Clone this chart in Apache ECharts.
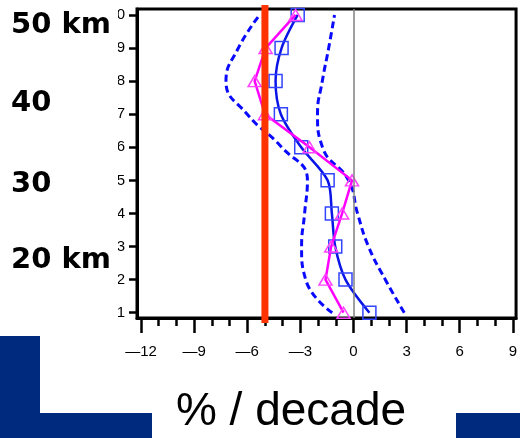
<!DOCTYPE html>
<html>
<head>
<meta charset="utf-8">
<script src="https://cdn.jsdelivr.net/npm/echarts@6/dist/echarts.min.js"></script>
<style>
  html, body { margin: 0; padding: 0; background: #fff; }
  #chart { width: 520px; height: 438px; }
</style>
</head>
<body>
<div id="chart"></div>
<script>
// Altitude levels (1 = lowest, 10 = highest)
const levels = [1, 2, 3, 4, 5, 6, 7, 8, 9, 10];

// Trends in % per decade at each level
const obsTrend   = [0.9, -0.45, -1.03, -1.22, -1.46, -2.95, -4.1, -4.4, -4.06, -3.15];
const modelTrend = [-0.56, -1.58, -1.26, -0.64, -0.08, -2.48, -5.0, -5.58, -4.96, -3.27];
const lowerBound = [-1.2, -2.7, -2.93, -2.76, -2.6, -4.05, -6.0, -7.2, -6.5, -5.3];
const upperBound = [2.87, 1.8, 0.85, 0.23, -0.28, -1.75, -2.03, -1.76, -1.4, -1.07];

// Reference trend marked by the vertical bar
const referenceTrend = -5;

// Axis ticks and labels
const xMajorTicks = [-12, -9, -6, -3, 0, 3, 6, 9];
const xTickLabels = ['\u201412', '\u20149', '\u20146', '\u20143', '0', '3', '6', '9'];
const xMinorTicks = [-12, -11, -10, -9, -8, -7, -6, -5, -4, -3, -2, -1, 0, 1, 2, 3, 4, 5, 6, 7, 8, 9];
const yTicks = [1, 2, 3, 4, 5, 6, 7, 8, 9, 10];
const yTickLabels = ['1', '2', '3', '4', '5', '6', '7', '8', '9', '10'];

// Altitude captions beside the axis
const altitudeCaptions = ['50 km', '40', '30', '20 km'];
const xAxisTitle = '% / decade';

const X_MIN = -12.225, X_MAX = 9.183;
const Y_MIN = 0.84, Y_MAX = 10.18;

const toPoints = xs => xs.map((x, i) => [x, levels[i]]);
const labelFor = (ticks, labels) => v => {
  const i = ticks.findIndex(t => Math.abs(t - v) < 1e-6);
  return i < 0 ? '' : labels[i];
};

const BLUE = '#0a14e6';
const DASH_BLUE = '#0a0aff';
const PINK = '#ff00ff';
const NAVY = '#002a7d';
const CAPTION_FONT = 'bold 29px "DejaVu Sans"';

const chart = echarts.init(document.getElementById('chart'), null, { renderer: 'canvas' });

const axisFont = { color: '#000', fontSize: 15, fontFamily: 'Liberation Sans' };

chart.setOption({
  backgroundColor: '#fff',
  animation: false,
  grid: {
    left: 137, top: 9, width: 380, height: 309,
    show: true, borderColor: '#000', borderWidth: 3, backgroundColor: 'transparent'
  },
  xAxis: [
    {
      type: 'value', min: X_MIN, max: X_MAX, position: 'bottom',
      axisLine: { show: true, onZero: false, lineStyle: { color: '#000', width: 3 } },
      axisTick: { show: true, customValues: xMajorTicks, length: 15, lineStyle: { color: '#000', width: 2.5 } },
      axisLabel: Object.assign({ customValues: xMajorTicks, margin: 26, formatter: labelFor(xMajorTicks, xTickLabels) }, axisFont),
      splitLine: { show: false }
    },
    {
      type: 'value', min: X_MIN, max: X_MAX, position: 'bottom', offset: 0,
      axisLine: { show: false },
      axisTick: { show: true, customValues: xMinorTicks, length: 8, lineStyle: { color: '#000', width: 2.5 } },
      axisLabel: { show: false },
      splitLine: { show: false }
    }
  ],
  yAxis: {
    type: 'value', min: Y_MIN, max: Y_MAX,
    axisLine: { show: true, onZero: false, lineStyle: { color: '#000', width: 3 } },
    axisTick: { show: true, customValues: yTicks, length: 8, lineStyle: { color: '#000', width: 2.5 } },
    axisLabel: Object.assign({ customValues: yTicks, margin: 12, formatter: labelFor(yTicks, yTickLabels) }, axisFont),
    splitLine: { show: false }
  },
  series: [
    {
      name: 'lower', type: 'line', data: toPoints(lowerBound), smooth: 0.5,
      symbol: 'none', lineStyle: { color: DASH_BLUE, width: 3, type: [7, 4], cap: 'butt' }, z: 2,
      markLine: {
        silent: true, symbol: 'none', label: { show: false },
        lineStyle: { color: '#808080', width: 1.5, type: 'solid' },
        data: [{ xAxis: 0 }]
      }
    },
    {
      name: 'upper', type: 'line', data: toPoints(upperBound), smooth: 0.5,
      symbol: 'none', lineStyle: { color: DASH_BLUE, width: 3, type: [7, 4], cap: 'butt' }, z: 2
    },
    {
      name: 'observed', type: 'line', data: toPoints(obsTrend), smooth: 0.3,
      symbol: 'rect', symbolSize: 13,
      lineStyle: { color: BLUE, width: 2.5 },
      itemStyle: { color: 'rgba(0,0,0,0)', borderColor: '#3344ff', borderWidth: 1.5 }, z: 3
    },
    {
      name: 'model', type: 'line', data: toPoints(modelTrend),
      symbol: 'triangle', symbolSize: [13, 11],
      lineStyle: { color: PINK, width: 2.5 },
      itemStyle: { color: 'rgba(0,0,0,0)', borderColor: '#ff44ff', borderWidth: 1.5 }, z: 4
    },
    {
      name: 'reference', type: 'custom', clip: false, z: 6,
      data: [[referenceTrend]],
      renderItem: (params, api) => {
        const top = api.coord([api.value(0), Y_MAX]);
        const bottom = api.coord([api.value(0), Y_MIN]);
        return {
          type: 'line',
          shape: { x1: top[0], y1: top[1] - 4, x2: bottom[0], y2: bottom[1] + 5 },
          style: { stroke: '#ff3300', lineWidth: 7 }
        };
      }
    }
  ],
  graphic: [
    { type: 'rect', z: 100, shape: { x: 0, y: 0, width: 118, height: 332 }, style: { fill: '#fff' } },
    { type: 'text', z: 101, x: 11, y: 25, style: { text: altitudeCaptions[0], font: CAPTION_FONT, fill: '#000', verticalAlign: 'middle' } },
    { type: 'text', z: 101, x: 11, y: 103, style: { text: altitudeCaptions[1], font: CAPTION_FONT, fill: '#000', verticalAlign: 'middle' } },
    { type: 'text', z: 101, x: 11, y: 184, style: { text: altitudeCaptions[2], font: CAPTION_FONT, fill: '#000', verticalAlign: 'middle' } },
    { type: 'text', z: 101, x: 11, y: 260, style: { text: altitudeCaptions[3], font: CAPTION_FONT, fill: '#000', verticalAlign: 'middle' } },
    // navy footer blocks
    { type: 'rect', z: 100, shape: { x: 0, y: 336, width: 40, height: 102 }, style: { fill: NAVY } },
    { type: 'rect', z: 100, shape: { x: 0, y: 413, width: 152, height: 25 }, style: { fill: NAVY } },
    { type: 'rect', z: 100, shape: { x: 456, y: 413, width: 64, height: 25 }, style: { fill: NAVY } },
    { type: 'text', z: 101, x: 291, y: 412, style: { text: xAxisTitle, font: '46px "Liberation Sans"', fill: '#000', align: 'center', verticalAlign: 'middle' } }
  ]
});
</script>
</body>
</html>
